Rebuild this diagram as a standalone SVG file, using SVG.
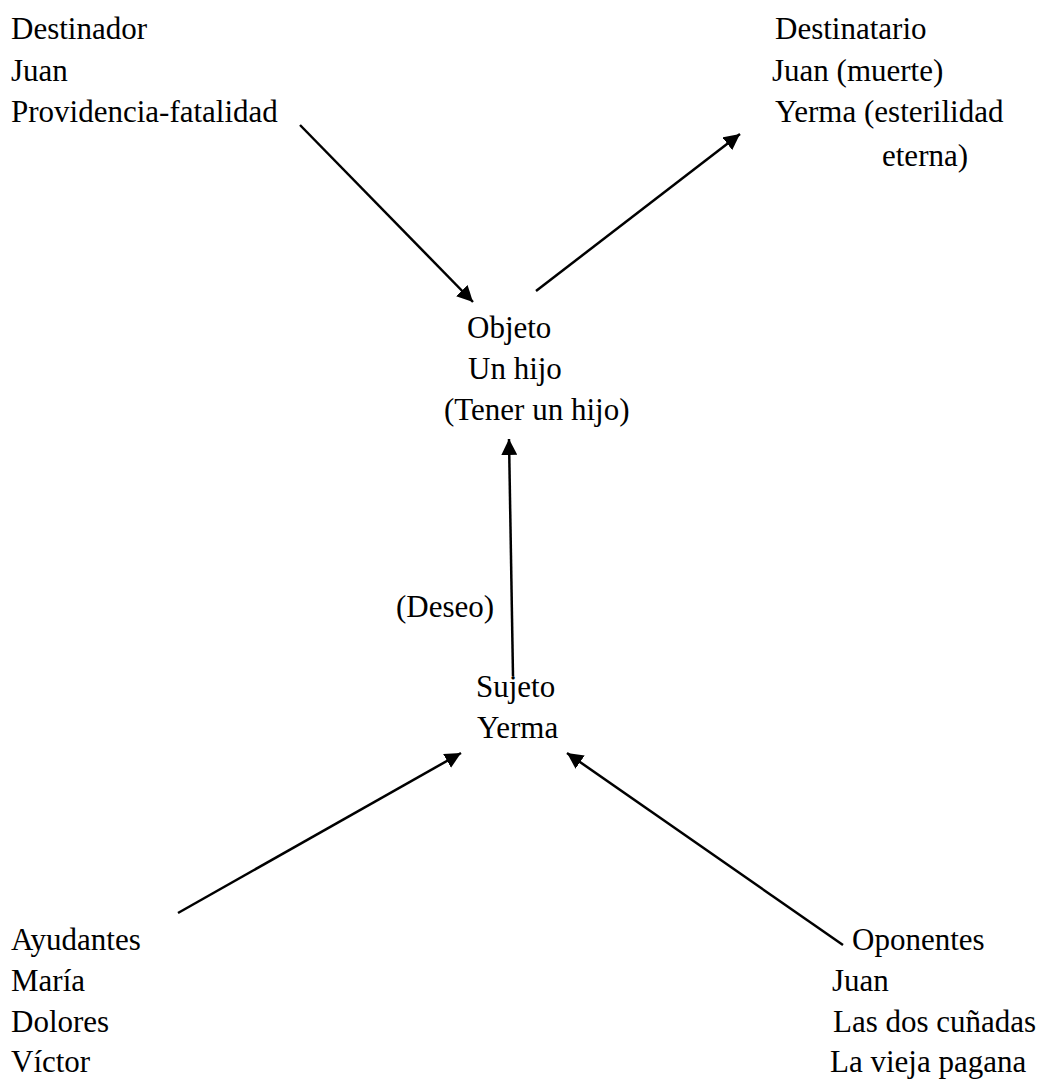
<svg xmlns="http://www.w3.org/2000/svg" width="1044" height="1081" viewBox="0 0 1044 1081">
<style>
text{font-family:'Liberation Serif','Times New Roman',serif;font-size:31px;fill:#000}
.c{stroke:#000;stroke-width:2.5;fill:none}
</style>
<defs>
<marker id="ah" markerUnits="userSpaceOnUse" markerWidth="18" markerHeight="16" refX="16" refY="8" orient="auto">
<path d="M0,0 L16,8 L0,16 Z" fill="#000"/>
</marker>
</defs>
<rect width="1044" height="1081" fill="#fff"/>
<g id="connectors">
<line class="c" x1="300" y1="125" x2="473" y2="302" marker-end="url(#ah)"/>
<line class="c" x1="536" y1="291" x2="740" y2="134" marker-end="url(#ah)"/>
<line class="c" x1="513" y1="676" x2="509" y2="439" marker-end="url(#ah)"/>
<line class="c" x1="178" y1="913" x2="461" y2="753" marker-end="url(#ah)"/>
<line class="c" x1="843" y1="945" x2="567" y2="753" marker-end="url(#ah)"/>
</g>
<g id="destinador">
<text x="11" y="39">Destinador</text>
<text x="11" y="81">Juan</text>
<text x="11" y="122">Providencia-fatalidad</text>
</g>
<g id="destinatario">
<text x="775" y="39">Destinatario</text>
<text x="772" y="81">Juan (muerte)</text>
<text x="775" y="122">Yerma (esterilidad</text>
<text x="882" y="166">eterna)</text>
</g>
<g id="objeto">
<text x="467" y="338">Objeto</text>
<text x="468" y="379">Un hijo</text>
<text x="444" y="420">(Tener un hijo)</text>
</g>
<g id="deseo">
<text x="396" y="617">(Deseo)</text>
</g>
<g id="sujeto">
<text x="476" y="697">Sujeto</text>
<text x="477" y="738">Yerma</text>
</g>
<g id="ayudantes">
<text x="11" y="950">Ayudantes</text>
<text x="11" y="991">María</text>
<text x="11" y="1032">Dolores</text>
<text x="11" y="1072">Víctor</text>
</g>
<g id="oponentes">
<text x="852" y="950">Oponentes</text>
<text x="832" y="991">Juan</text>
<text x="833" y="1032">Las dos cuñadas</text>
<text x="830" y="1072">La vieja pagana</text>
</g>
</svg>
